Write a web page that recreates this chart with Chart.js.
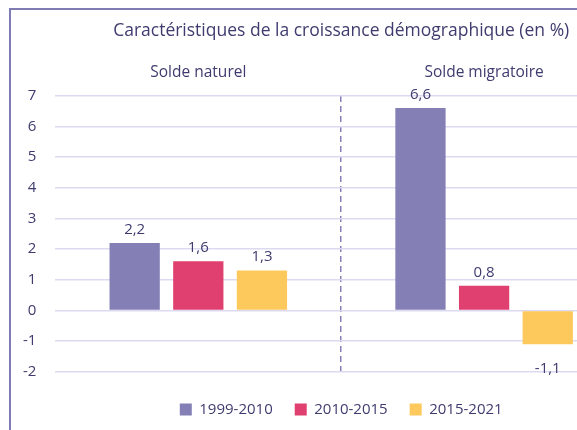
<!DOCTYPE html>
<html>
<head>
<meta charset="utf-8">
<script src="https://cdn.jsdelivr.net/npm/chart.js@4"></script>
<style>
  body { margin: 0; width: 577px; height: 430px; overflow: hidden; background: #fff; }
  #cadre { position: absolute; left: 9px; top: 8px; width: 700px; height: 440px;
           border-left: 2px solid #7f7bb5; border-top: 2px solid #7f7bb5; }
  #wrap { position: absolute; left: 4px; top: 10px; width: 662px; height: 417px; }
</style>
</head>
<body>
<div id="cadre"></div>
<div id="wrap"><canvas id="graficoBarra" width="662" height="417"></canvas></div>
<script>
// données
const categories = ['Solde naturel', 'Solde migratoire'];
const periodes = ['1999-2010', '2010-2015', '2015-2021'];
const valeurs1999 = [2.2, 6.6];
const valeurs2010 = [1.6, 0.8];
const valeurs2015 = [1.3, -1.1];
const couleurs = ['#8480b6', '#e0406f', '#fdc95c'];
const texte = '#3f3b6e';
const police = "'Open Sans', 'Noto Sans', sans-serif";

// étiquettes de valeur au-dessus / au-dessous des barres
const etiquettes = {
    id: 'etiquettes',
    afterDatasetsDraw(chart) {
        const ctx = chart.ctx;
        ctx.save();
        ctx.font = '15px ' + police;
        ctx.fillStyle = texte;
        ctx.textAlign = 'center';
        chart.data.datasets.forEach((ds, i) => {
            chart.getDatasetMeta(i).data.forEach((bar, j) => {
                const v = ds.data[j];
                const txt = String(v).replace('.', ',');
                if (v >= 0) {
                    ctx.textBaseline = 'bottom';
                    ctx.fillText(txt, bar.x, bar.y - 6);
                } else {
                    ctx.textBaseline = 'top';
                    ctx.fillText(txt, bar.x, bar.y + 17);
                }
            });
        });
        ctx.restore();
    }
};

let asesor = document.getElementById('graficoBarra').getContext('2d');
let graficoMod = new Chart(asesor, {
    type: 'bar',
    data: {
        labels: categories,
        datasets: [
            { label: periodes[0], data: valeurs1999, backgroundColor: couleurs[0] },
            { label: periodes[1], data: valeurs2010, backgroundColor: couleurs[1] },
            { label: periodes[2], data: valeurs2015, backgroundColor: couleurs[2] }
        ]
    },
    options: {
        responsive: false,
        animation: false,
        layout: { padding: { left: 0, right: 39, top: 0, bottom: 0 } },
        datasets: { bar: { categoryPercentage: 0.668, barPercentage: 0.79 } },
        plugins: {
            title: {
                display: true,
                fullSize: false,
                text: 'Caractéristiques de la croissance démographique (en %)',
                color: texte,
                font: { family: police, size: 17.5, weight: 'normal' },
                padding: { top: 11, bottom: 7 }
            },
            legend: {
                position: 'bottom',
                fullSize: false,
                // titre vide : sert seulement d'espace au-dessus de la légende
                title: { display: true, text: ' ', font: { size: 1 }, padding: { top: 0, bottom: 7 } },
                labels: {
                    color: texte,
                    font: { family: police, size: 15 },
                    boxWidth: 12, boxHeight: 12, padding: 22
                }
            },
            tooltip: { enabled: false }
        },
        scales: {
            x: {
                position: 'top',
                border: { display: false, dash: [6, 4] },
                grid: {
                    offset: true,
                    drawTicks: false,
                    color: ctx => ctx.index === 1 ? '#8480b6' : 'transparent',
                    lineWidth: 1.5
                },
                ticks: { color: texte, font: { family: police, size: 15.5 }, padding: 14 }
            },
            y: {
                min: -2, max: 7,
                border: { display: false },
                grid: { color: '#dcdaf0', lineWidth: 1.5, drawTicks: false },
                ticks: { stepSize: 1, color: texte, font: { family: police, size: 15 }, padding: 19 }
            }
        }
    },
    plugins: [etiquettes]
});
</script>
</body>
</html>
